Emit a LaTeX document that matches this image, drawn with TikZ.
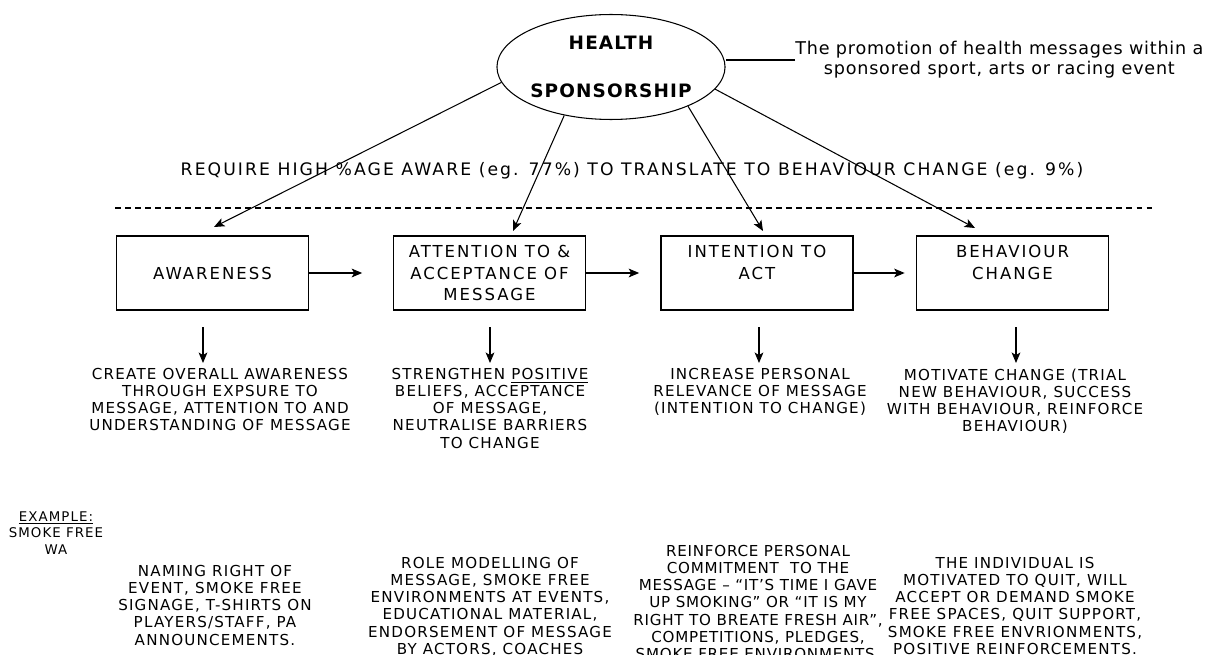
\documentclass[tikz,border=0pt]{standalone}
\usepackage{fontspec}
\setmainfont{DejaVu Sans}
\newfontfamily\stagefamily[LetterSpace=12]{DejaVu Sans}
\newfontfamily\notefamily[LetterSpace=8]{DejaVu Sans}
\newfontfamily\smallfamily[LetterSpace=8]{DejaVu Sans}
\usetikzlibrary{arrows.meta}
\usetikzlibrary{shapes.geometric}
\tikzset{>={Stealth[length=6pt,width=5pt,inset=1.5pt]}}
\tikzset{
  stagebox/.style={draw, line width=.8pt, minimum width=3.84cm, minimum height=1.48cm,
    align=center, font={\stagefamily\fontsize{9.4}{12.5}\selectfont}},
  effect/.style={align=center, anchor=north, inner sep=3pt,
    font={\notefamily\fontsize{8.6}{9.7}\selectfont}},
  link/.style={->, line width=.6pt},
}

\begin{document}
\begin{tikzpicture}[x=0.02cm, y=-0.02cm]
      \useasboundingbox (0,0) rectangle (1224,655);
      % sponsorship
      \node[ellipse, draw, line width=.6pt, inner sep=0pt, minimum width=4.56cm, minimum height=2.1cm,
        align=center, font={\stagefamily\bfseries\fontsize{10.5}{12.5}\selectfont\addfontfeature{LetterSpace=6}}]
        (hs) at (611,67) {HEALTH\\[15pt]SPONSORSHIP};
      \node[anchor=west, align=center, inner sep=0pt,
        font={\stagefamily\fontsize{10}{11.3}\selectfont\addfontfeature{LetterSpace=4.5}}]
        (pr) at (795,60) {The promotion of health messages within a\\sponsored sport, arts or racing event};
      \draw[line width=.6pt] (pr.west) -- (pr.west -| hs.east);
      % threshold
      \node[font={\stagefamily\fontsize{9.8}{12.5}\selectfont}] (req) at (632,171)
        {REQUIRE HIGH \%AGE AWARE (eg. 77\%) TO TRANSLATE TO BEHAVIOUR CHANGE (eg. 9\%)};
      \draw[dashed, dash pattern=on 3.4pt off 2.3pt, line width=1.1pt] (115,208) -- (1155,208);
      % stages
      \node[stagebox] (aw) at (212.5,273) {AWARENESS};
      \node[stagebox] (at) at (489.5,273) {ATTENTION TO \&\\ACCEPTANCE OF\\MESSAGE};
      \node[stagebox] (in) at (757,273) {INTENTION TO\\ACT\\\mbox{}};
      \node[stagebox] (bc) at (1012.5,273) {BEHAVIOUR\\CHANGE\\\mbox{}};
      \draw[link] (aw.east) -- ++(53,0);
      \draw[link] (at.east) -- ++(53,0);
      \draw[link] (in.east) -- ++(51,0);
      % arrows from the ellipse
      \coordinate (t1) at (214,227);
      \coordinate (t2) at (513,231);
      \coordinate (t3) at (763,231);
      \coordinate (t4) at (975,228);
      \draw[link] (hs.188) -- (t1);
      \draw[link] (hs.226) -- (t2);
      \draw[link] (hs.333) -- (t3);
      \draw[link] (hs.348) -- (t4);
      % aims
      \node[effect] (c1) at (220,363) {CREATE OVERALL AWARENESS\\THROUGH EXPSURE TO\\MESSAGE, ATTENTION TO AND\\UNDERSTANDING OF MESSAGE};
      \node[effect] (c2) at (490,363) {STRENGTHEN \underline{POSITIVE}\\BELIEFS, ACCEPTANCE\\OF MESSAGE,\\NEUTRALISE BARRIERS\\TO CHANGE};
      \node[effect] (c3) at (760,363) {INCREASE PERSONAL\\RELEVANCE OF MESSAGE\\(INTENTION TO CHANGE)};
      \node[effect] (c4) at (1015,363) {MOTIVATE CHANGE (TRIAL\\NEW BEHAVIOUR, SUCCESS\\WITH BEHAVIOUR, REINFORCE\\BEHAVIOUR)};
      \coordinate (d1) at (203,327);
      \coordinate (d2) at (490,327);
      \coordinate (d3) at (759,327);
      \coordinate (d4) at (1016,327);
      \draw[link] (d1) -- (d1 |- c1.north);
      \draw[link] (d2) -- (d2 |- c2.north);
      \draw[link] (d3) -- (d3 |- c3.north);
      \draw[link] (d4) -- (d4 |- c4.north);
      % examples
      \node[align=center, anchor=north, inner sep=0pt, font={\smallfamily\fontsize{7.6}{9.4}\selectfont}]
        (ex) at (56,511) {\underline{EXAMPLE:}\\SMOKE FREE\\WA};
      \node[effect] (e1) at (215,560) {NAMING RIGHT OF\\EVENT, SMOKE FREE\\SIGNAGE, T-SHIRTS ON\\PLAYERS/STAFF, PA\\ANNOUNCEMENTS.};
      \node[effect] (e2) at (490,552) {ROLE MODELLING OF\\MESSAGE, SMOKE FREE\\ENVIRONMENTS AT EVENTS,\\EDUCATIONAL MATERIAL,\\ENDORSEMENT OF MESSAGE\\BY ACTORS, COACHES};
      \node[effect, font={\notefamily\fontsize{8.6}{9.7}\selectfont\addfontfeature{LetterSpace=5}}]
        (e3) at (758,540) {REINFORCE PERSONAL\\COMMITMENT\ \ TO THE\\MESSAGE – “IT’S TIME I GAVE\\UP SMOKING” OR “IT IS MY\\RIGHT TO BREATE FRESH AIR”,\\COMPETITIONS, PLEDGES,\\SMOKE FREE ENVIRONMENTS.};
      \node[effect] (e4) at (1015,552) {THE INDIVIDUAL IS\\MOTIVATED TO QUIT, WILL\\ACCEPT OR DEMAND SMOKE\\FREE SPACES, QUIT SUPPORT,\\SMOKE FREE ENVRIONMENTS,\\POSITIVE REINFORCEMENTS.};
\end{tikzpicture}
\end{document}
